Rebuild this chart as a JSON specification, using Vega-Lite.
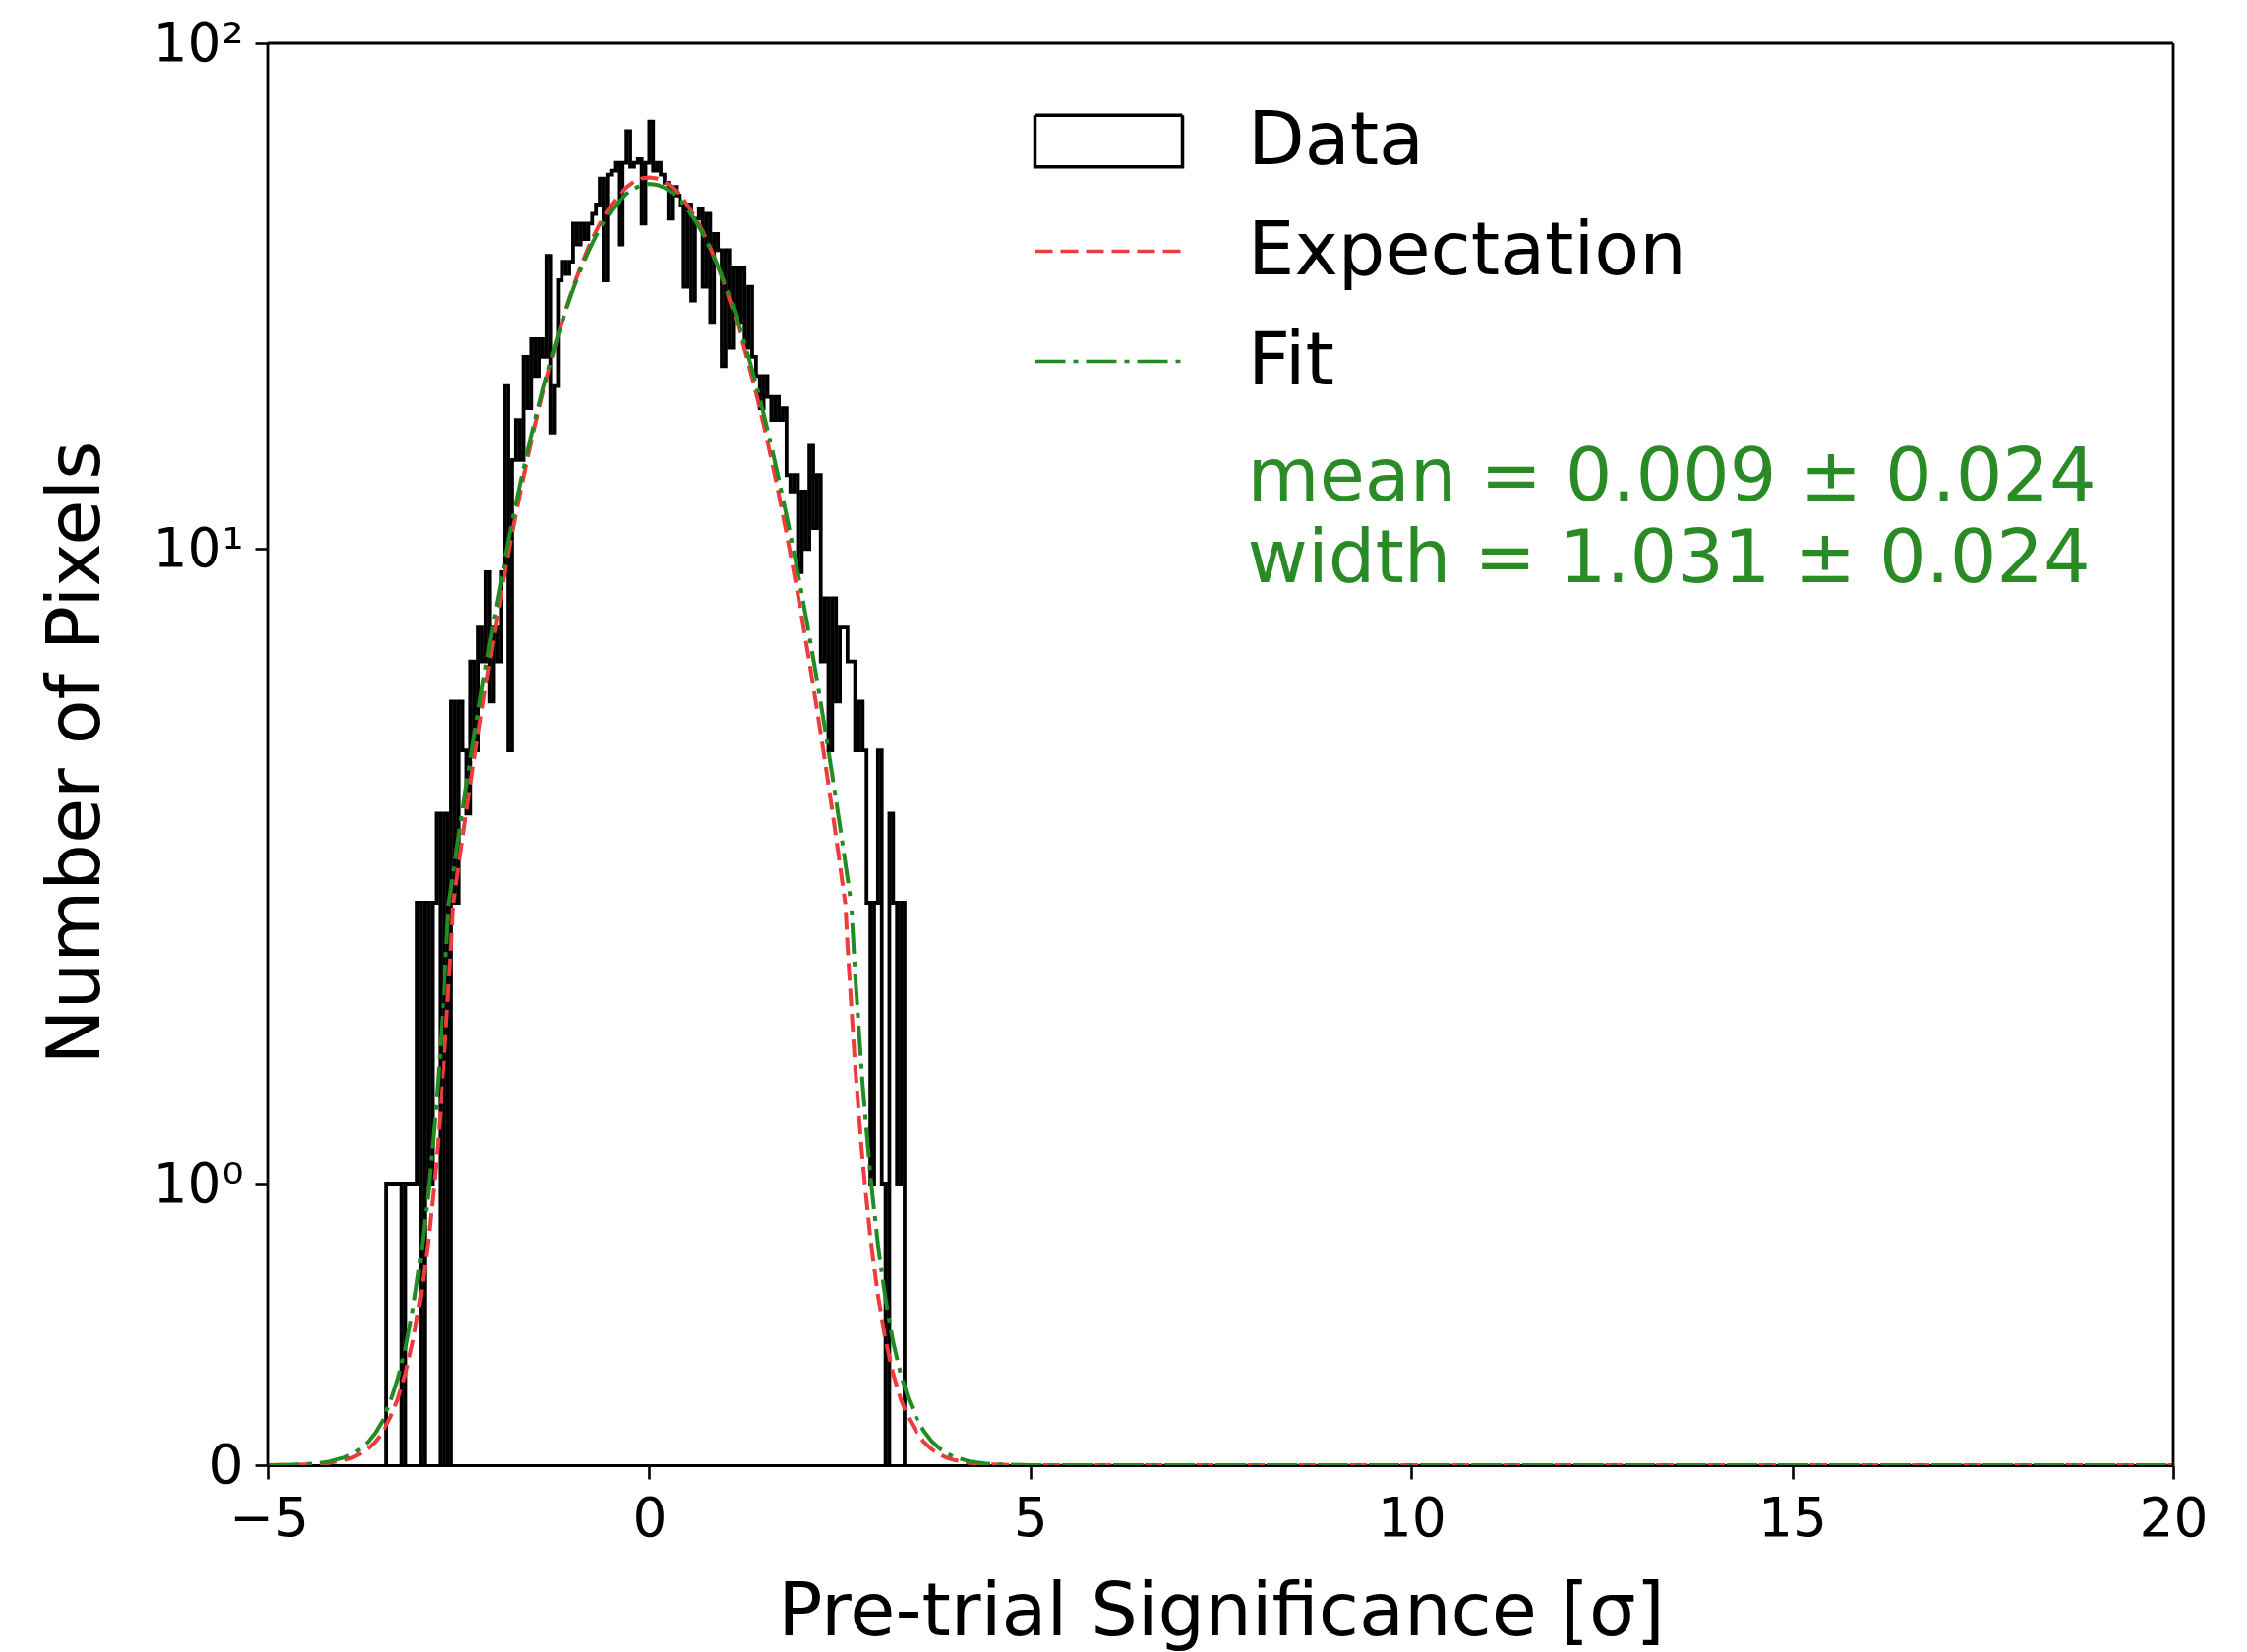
{
  "$schema": "https://vega.github.io/schema/vega-lite/v6.json",
  "background": "white",
  "padding": {"left": 40, "top": 17, "right": 20, "bottom": 10},
  "spacing": 0,
  "bounds": "flush",
  "config": {
    "font": "DejaVu Sans",
    "view": {"stroke": null},
    "axis": {
      "grid": false,
      "labelFont": "DejaVu Sans",
      "titleFont": "DejaVu Sans",
      "labelFontSize": 55,
      "titleFontSize": 75,
      "titleFontWeight": "normal",
      "labelColor": "black",
      "titleColor": "black",
      "tickColor": "black",
      "domainColor": "black",
      "tickSize": 14,
      "tickWidth": 2.6,
      "domainWidth": 2.8,
      "labelFlush": false
    }
  },
  "datasets": {
    "hist": [
      {"x": -3.46, "n": 0},
      {"x": -3.45, "n": 1}, {"x": -3.40, "n": 1}, {"x": -3.35, "n": 1}, {"x": -3.30, "n": 1},
      {"x": -3.25, "n": 0}, {"x": -3.20, "n": 1}, {"x": -3.15, "n": 1}, {"x": -3.10, "n": 1},
      {"x": -3.05, "n": 2}, {"x": -3.00, "n": 0}, {"x": -2.95, "n": 2}, {"x": -2.90, "n": 1},
      {"x": -2.85, "n": 2}, {"x": -2.80, "n": 3}, {"x": -2.75, "n": 0}, {"x": -2.70, "n": 3},
      {"x": -2.65, "n": 0}, {"x": -2.60, "n": 5}, {"x": -2.55, "n": 2}, {"x": -2.50, "n": 5},
      {"x": -2.45, "n": 4}, {"x": -2.40, "n": 3}, {"x": -2.35, "n": 6}, {"x": -2.30, "n": 4},
      {"x": -2.25, "n": 7}, {"x": -2.20, "n": 6}, {"x": -2.15, "n": 9}, {"x": -2.10, "n": 5},
      {"x": -2.05, "n": 7}, {"x": -2.00, "n": 6}, {"x": -1.95, "n": 9}, {"x": -1.90, "n": 21},
      {"x": -1.85, "n": 4}, {"x": -1.80, "n": 15}, {"x": -1.75, "n": 18}, {"x": -1.70, "n": 15},
      {"x": -1.65, "n": 24}, {"x": -1.60, "n": 19}, {"x": -1.55, "n": 26}, {"x": -1.50, "n": 22},
      {"x": -1.45, "n": 26}, {"x": -1.40, "n": 24}, {"x": -1.35, "n": 38}, {"x": -1.30, "n": 17},
      {"x": -1.25, "n": 21}, {"x": -1.20, "n": 34}, {"x": -1.15, "n": 37}, {"x": -1.10, "n": 35},
      {"x": -1.05, "n": 37}, {"x": -1.00, "n": 44}, {"x": -0.95, "n": 40}, {"x": -0.90, "n": 44},
      {"x": -0.85, "n": 41}, {"x": -0.80, "n": 44}, {"x": -0.75, "n": 46}, {"x": -0.70, "n": 48},
      {"x": -0.65, "n": 54}, {"x": -0.60, "n": 34}, {"x": -0.55, "n": 55}, {"x": -0.50, "n": 56},
      {"x": -0.45, "n": 58}, {"x": -0.40, "n": 40}, {"x": -0.35, "n": 58}, {"x": -0.30, "n": 67},
      {"x": -0.25, "n": 57}, {"x": -0.20, "n": 58}, {"x": -0.15, "n": 59}, {"x": -0.10, "n": 44},
      {"x": -0.05, "n": 58}, {"x": 0.00, "n": 70}, {"x": 0.05, "n": 56}, {"x": 0.10, "n": 58},
      {"x": 0.15, "n": 55}, {"x": 0.20, "n": 53}, {"x": 0.25, "n": 45}, {"x": 0.30, "n": 52},
      {"x": 0.35, "n": 50}, {"x": 0.40, "n": 48}, {"x": 0.45, "n": 33}, {"x": 0.50, "n": 48},
      {"x": 0.55, "n": 31}, {"x": 0.60, "n": 45}, {"x": 0.65, "n": 47}, {"x": 0.70, "n": 33},
      {"x": 0.75, "n": 46}, {"x": 0.80, "n": 28}, {"x": 0.85, "n": 42}, {"x": 0.90, "n": 39},
      {"x": 0.95, "n": 23}, {"x": 1.00, "n": 39}, {"x": 1.05, "n": 25}, {"x": 1.10, "n": 36},
      {"x": 1.15, "n": 28}, {"x": 1.20, "n": 36}, {"x": 1.25, "n": 25}, {"x": 1.30, "n": 33},
      {"x": 1.35, "n": 24}, {"x": 1.40, "n": 22}, {"x": 1.45, "n": 19}, {"x": 1.50, "n": 22},
      {"x": 1.55, "n": 20}, {"x": 1.60, "n": 18}, {"x": 1.65, "n": 20}, {"x": 1.70, "n": 18},
      {"x": 1.75, "n": 19}, {"x": 1.80, "n": 14}, {"x": 1.85, "n": 13}, {"x": 1.90, "n": 14},
      {"x": 1.95, "n": 9}, {"x": 2.00, "n": 13}, {"x": 2.05, "n": 10}, {"x": 2.10, "n": 16},
      {"x": 2.15, "n": 11}, {"x": 2.20, "n": 14}, {"x": 2.25, "n": 6}, {"x": 2.30, "n": 8},
      {"x": 2.35, "n": 4}, {"x": 2.40, "n": 8}, {"x": 2.45, "n": 5}, {"x": 2.50, "n": 7},
      {"x": 2.55, "n": 7}, {"x": 2.60, "n": 6}, {"x": 2.65, "n": 6}, {"x": 2.70, "n": 4},
      {"x": 2.75, "n": 5}, {"x": 2.80, "n": 4}, {"x": 2.85, "n": 2}, {"x": 2.90, "n": 1},
      {"x": 2.95, "n": 2}, {"x": 3.00, "n": 4}, {"x": 3.05, "n": 1}, {"x": 3.10, "n": 0},
      {"x": 3.15, "n": 3}, {"x": 3.20, "n": 2}, {"x": 3.25, "n": 1}, {"x": 3.30, "n": 2},
      {"x": 3.35, "n": 0}
    ],
    "curves": [
      {"x": -5.0, "e": 0.0002, "f": 0.0004}, {"x": -4.8, "e": 0.0005, "f": 0.0010},
      {"x": -4.6, "e": 0.0014, "f": 0.0024}, {"x": -4.4, "e": 0.0034, "f": 0.0056},
      {"x": -4.2, "e": 0.0080, "f": 0.0126}, {"x": -4.0, "e": 0.0182, "f": 0.0274},
      {"x": -3.9, "e": 0.0270, "f": 0.0398}, {"x": -3.8, "e": 0.0398, "f": 0.0572},
      {"x": -3.7, "e": 0.0578, "f": 0.0816}, {"x": -3.6, "e": 0.0831, "f": 0.1150},
      {"x": -3.5, "e": 0.1189, "f": 0.1607}, {"x": -3.4, "e": 0.1678, "f": 0.2225},
      {"x": -3.3, "e": 0.2346, "f": 0.3052}, {"x": -3.2, "e": 0.3247, "f": 0.4148},
      {"x": -3.1, "e": 0.4447, "f": 0.5584}, {"x": -3.0, "e": 0.6033, "f": 0.7447},
      {"x": -2.9, "e": 0.8102, "f": 0.9832}, {"x": -2.8, "e": 1.077, "f": 1.287},
      {"x": -2.7, "e": 1.418, "f": 1.669}, {"x": -2.6, "e": 1.849, "f": 2.144},
      {"x": -2.5, "e": 2.386, "f": 2.727}, {"x": -2.4, "e": 3.048, "f": 3.438},
      {"x": -2.3, "e": 3.855, "f": 4.292}, {"x": -2.2, "e": 4.828, "f": 5.308},
      {"x": -2.1, "e": 5.987, "f": 6.503}, {"x": -2.0, "e": 7.349, "f": 7.894},
      {"x": -1.9, "e": 8.931, "f": 9.491}, {"x": -1.8, "e": 10.75, "f": 11.31},
      {"x": -1.7, "e": 12.80, "f": 13.34}, {"x": -1.6, "e": 15.10, "f": 15.60},
      {"x": -1.5, "e": 17.63, "f": 18.06}, {"x": -1.4, "e": 20.38, "f": 20.71},
      {"x": -1.3, "e": 23.33, "f": 23.54}, {"x": -1.2, "e": 26.43, "f": 26.50},
      {"x": -1.1, "e": 29.65, "f": 29.55}, {"x": -1.0, "e": 32.93, "f": 32.64},
      {"x": -0.9, "e": 36.22, "f": 35.73}, {"x": -0.8, "e": 39.43, "f": 38.74},
      {"x": -0.7, "e": 42.50, "f": 41.60}, {"x": -0.6, "e": 45.36, "f": 44.26},
      {"x": -0.5, "e": 47.92, "f": 46.65}, {"x": -0.4, "e": 50.13, "f": 48.71},
      {"x": -0.3, "e": 51.91, "f": 50.39}, {"x": -0.2, "e": 53.23, "f": 51.63},
      {"x": -0.1, "e": 54.03, "f": 52.41}, {"x": 0.0, "e": 54.30, "f": 52.70},
      {"x": 0.1, "e": 54.03, "f": 52.49}, {"x": 0.2, "e": 53.23, "f": 51.81},
      {"x": 0.3, "e": 51.91, "f": 50.65}, {"x": 0.4, "e": 50.13, "f": 49.05},
      {"x": 0.5, "e": 47.92, "f": 47.05}, {"x": 0.6, "e": 45.36, "f": 44.72},
      {"x": 0.7, "e": 42.50, "f": 42.10}, {"x": 0.8, "e": 39.43, "f": 39.26},
      {"x": 0.9, "e": 36.22, "f": 36.27}, {"x": 1.0, "e": 32.93, "f": 33.20},
      {"x": 1.1, "e": 29.65, "f": 30.11}, {"x": 1.2, "e": 26.43, "f": 27.04},
      {"x": 1.3, "e": 23.33, "f": 24.06}, {"x": 1.4, "e": 20.38, "f": 21.21},
      {"x": 1.5, "e": 17.63, "f": 18.52}, {"x": 1.6, "e": 15.10, "f": 16.02},
      {"x": 1.7, "e": 12.80, "f": 13.72}, {"x": 1.8, "e": 10.75, "f": 11.65},
      {"x": 1.9, "e": 8.931, "f": 9.801}, {"x": 2.0, "e": 7.349, "f": 8.166},
      {"x": 2.1, "e": 5.987, "f": 6.739}, {"x": 2.2, "e": 4.828, "f": 5.510},
      {"x": 2.3, "e": 3.855, "f": 4.462}, {"x": 2.4, "e": 3.048, "f": 3.580},
      {"x": 2.5, "e": 2.386, "f": 2.845}, {"x": 2.6, "e": 1.849, "f": 2.240},
      {"x": 2.7, "e": 1.418, "f": 1.747}, {"x": 2.8, "e": 1.077, "f": 1.349},
      {"x": 2.9, "e": 0.8102, "f": 1.033}, {"x": 3.0, "e": 0.6033, "f": 0.7835},
      {"x": 3.1, "e": 0.4447, "f": 0.5886}, {"x": 3.2, "e": 0.3247, "f": 0.4379},
      {"x": 3.3, "e": 0.2346, "f": 0.3228}, {"x": 3.4, "e": 0.1678, "f": 0.2357},
      {"x": 3.5, "e": 0.1189, "f": 0.1705}, {"x": 3.6, "e": 0.0831, "f": 0.1222},
      {"x": 3.7, "e": 0.0578, "f": 0.0868}, {"x": 3.8, "e": 0.0398, "f": 0.0610},
      {"x": 3.9, "e": 0.0270, "f": 0.0426}, {"x": 4.0, "e": 0.0182, "f": 0.0294},
      {"x": 4.2, "e": 0.0080, "f": 0.0136}, {"x": 4.4, "e": 0.0034, "f": 0.0060},
      {"x": 4.6, "e": 0.0014, "f": 0.0026}, {"x": 4.8, "e": 0.0005, "f": 0.0011},
      {"x": 5.0, "e": 0.0002, "f": 0.0004}, {"x": 6.0, "e": 0, "f": 0},
      {"x": 8.0, "e": 0, "f": 0}, {"x": 10.0, "e": 0, "f": 0},
      {"x": 12.0, "e": 0, "f": 0}, {"x": 14.0, "e": 0, "f": 0},
      {"x": 16.0, "e": 0, "f": 0}, {"x": 18.0, "e": 0, "f": 0},
      {"x": 20.0, "e": 0, "f": 0}
    ],
    "one": [{}]
  },
  "vconcat": [
    {
      "width": 1937,
      "height": 874,
      "layer": [
        {
          "data": {"name": "hist"},
          "mark": {"type": "line", "interpolate": "step-after", "clip": true, "strokeWidth": 3.8},
          "encoding": {
            "x": {"field": "x", "type": "quantitative", "scale": {"domain": [-5, 20], "nice": false, "zero": false}, "axis": null},
            "y": {"field": "n", "type": "quantitative", "title": "Number of Pixels",
              "scale": {"type": "log", "domain": [1, 100], "range": [1028.86, 0], "clamp": true, "nice": false},
              "axis": {"values": [10, 100], "domain": false, "labelExpr": "datum.value == 100 ? '10²' : '10¹'", "labelPadding": 12, "titleX": -173, "titleY": 721, "titleAnchor": null, "titleBaseline": "alphabetic", "titleAlign": "center", "titleAngle": -90}},
            "color": {"datum": "Data", "type": "nominal",
              "scale": {"domain": ["Data", "Expectation", "Fit"], "range": ["black", "#ee3b3b", "#228b22"]},
              "legend": {"orient": "none", "legendX": 815, "legendY": 60, "title": null, "labelFontSize": 75, "labelFont": "DejaVu Sans", "labelColor": "black", "labelLimit": 0, "symbolSize": 5625, "symbolType": "M-2,0H2", "symbolStrokeWidth": 3.5, "labelOffset": 102, "rowPadding": 34, "padding": 0,
                "encode": {"symbols": {"update": {"shape": {"signal": "datum.value === 'Data' ? 'M-2,-0.7H2V0.7H-2Z' : 'M-2,0H2'"}, "fill": {"value": "transparent"}}}}}},
            "strokeDash": {"datum": "Data", "type": "nominal",
              "scale": {"domain": ["Data", "Expectation", "Fit"], "range": [[1, 0], [18, 8], [31, 8, 5, 8]]},
              "legend": {"orient": "none", "legendX": 815, "legendY": 60, "title": null, "labelLimit": 0}}
          }
        },
        {
          "data": {"name": "curves"},
          "mark": {"type": "line", "clip": true, "strokeWidth": 4},
          "encoding": {
            "x": {"field": "x", "type": "quantitative"},
            "y": {"field": "e", "type": "quantitative", "title": "Number of Pixels"},
            "color": {"datum": "Expectation", "type": "nominal"},
            "strokeDash": {"datum": "Expectation", "type": "nominal"}
          }
        },
        {
          "data": {"name": "curves"},
          "mark": {"type": "line", "clip": true, "strokeWidth": 4},
          "encoding": {
            "x": {"field": "x", "type": "quantitative"},
            "y": {"field": "f", "type": "quantitative", "title": "Number of Pixels"},
            "color": {"datum": "Fit", "type": "nominal"},
            "strokeDash": {"datum": "Fit", "type": "nominal"}
          }
        },
        {"data": {"name": "one"}, "mark": {"type": "rule", "color": "black", "strokeWidth": 2.8}, "encoding": {"x": {"datum": -5}}},
        {"data": {"name": "one"}, "mark": {"type": "rule", "color": "black", "strokeWidth": 2.8}, "encoding": {"x": {"datum": 20}}},
        {"data": {"name": "one"}, "mark": {"type": "rule", "color": "black", "strokeWidth": 2.8}, "encoding": {"y": {"datum": 100}}},
        {
          "data": {"name": "one"},
          "mark": {"type": "text", "align": "left", "baseline": "alphabetic", "fontSize": 75, "lineHeight": 83, "color": "#2a8a26", "font": "DejaVu Sans"},
          "encoding": {"x": {"datum": 7.85}, "y": {"datum": 12.47}, "text": {"value": ["mean = 0.009 ± 0.024", "width = 1.031 ± 0.024"]}}
        }
      ]
    },
    {
      "width": 1937,
      "height": 572,
      "layer": [
        {
          "data": {"name": "hist"},
          "mark": {"type": "line", "interpolate": "step-after", "clip": true, "strokeWidth": 3.8, "color": "black"},
          "encoding": {
            "x": {"field": "x", "type": "quantitative", "title": "Pre-trial Significance [σ]",
              "scale": {"domain": [-5, 20], "nice": false, "zero": false},
              "axis": {"values": [-5, 0, 5, 10, 15, 20], "format": "d", "labelFlush": false, "labelPadding": 14, "titleY": 172, "titleBaseline": "alphabetic", "titleAnchor": "middle"}},
            "y": {"field": "n", "type": "quantitative", "title": null,
              "scale": {"type": "linear", "domain": [0, 2], "nice": false, "zero": true},
              "axis": {"values": [0, 1], "domain": false, "labelExpr": "datum.value == 1 ? '10⁰' : '0'", "labelPadding": 12}}
          }
        },
        {
          "data": {"name": "curves"},
          "mark": {"type": "line", "clip": true, "strokeWidth": 4, "color": "#ee3b3b", "strokeDash": [18, 8]},
          "encoding": {
            "x": {"field": "x", "type": "quantitative", "title": "Pre-trial Significance [σ]"},
            "y": {"field": "e", "type": "quantitative", "title": null}
          }
        },
        {
          "data": {"name": "curves"},
          "mark": {"type": "line", "clip": true, "strokeWidth": 4, "color": "#228b22", "strokeDash": [31, 8, 5, 8]},
          "encoding": {
            "x": {"field": "x", "type": "quantitative", "title": "Pre-trial Significance [σ]"},
            "y": {"field": "f", "type": "quantitative", "title": null}
          }
        },
        {"data": {"name": "one"}, "mark": {"type": "rule", "color": "black", "strokeWidth": 2.8}, "encoding": {"x": {"datum": -5}}},
        {"data": {"name": "one"}, "mark": {"type": "rule", "color": "black", "strokeWidth": 2.8}, "encoding": {"x": {"datum": 20}}}
      ]
    }
  ]
}
